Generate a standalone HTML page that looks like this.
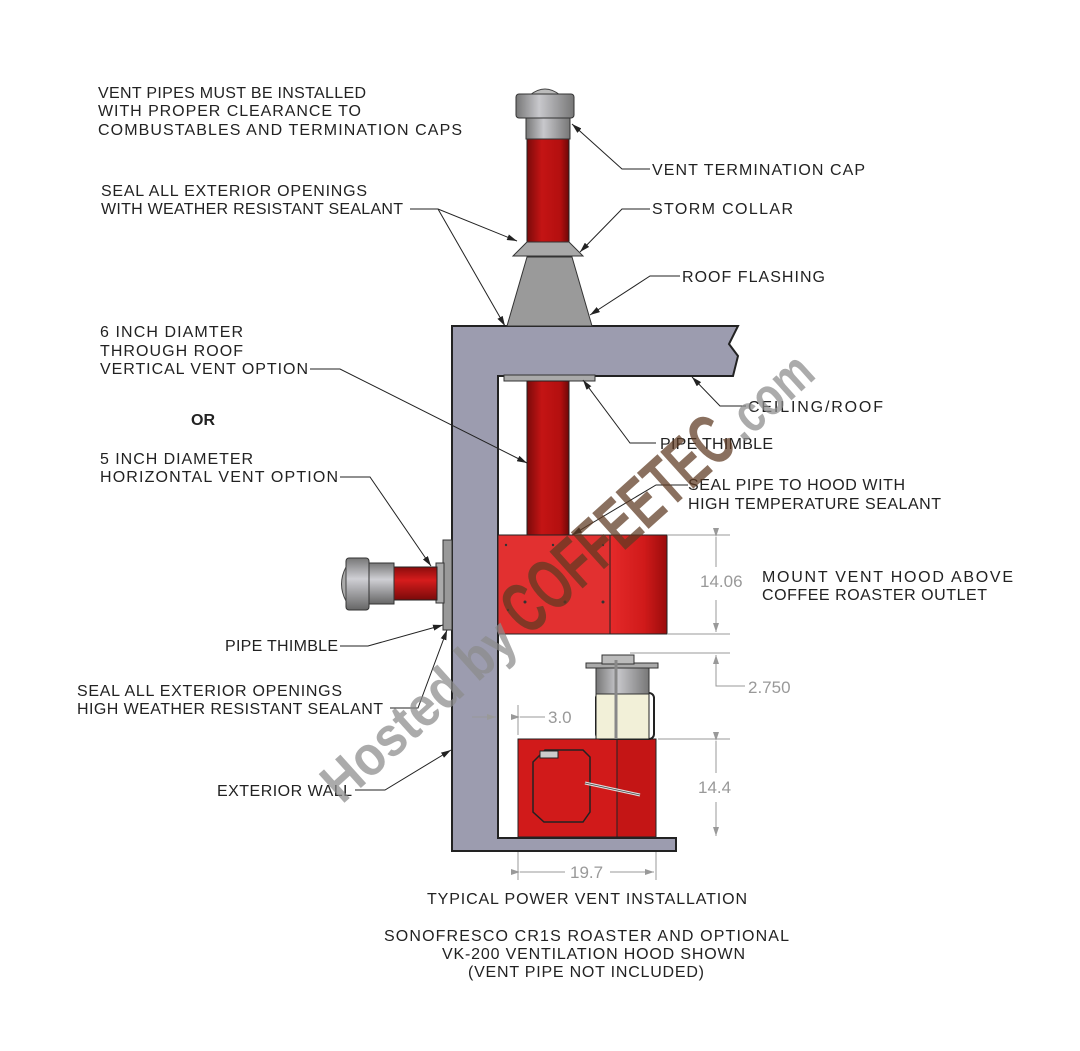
<!DOCTYPE html>
<html><head><meta charset="utf-8"><style>
html,body{margin:0;padding:0;background:#fff;}
svg{display:block;}
text{font-family:"Liberation Sans",sans-serif;font-size:16px;fill:#222;}
.d{fill:#999;font-size:17px;}
</style></head><body>
<svg width="1080" height="1051" viewBox="0 0 1080 1051" xmlns="http://www.w3.org/2000/svg">
<defs>
<linearGradient id="red" x1="0" x2="1"><stop offset="0" stop-color="#7a0a0a"/><stop offset="0.35" stop-color="#c41414"/><stop offset="0.8" stop-color="#b30f0f"/><stop offset="1" stop-color="#6e0808"/></linearGradient>
<linearGradient id="redh" x1="0" y1="0" x2="0" y2="1"><stop offset="0" stop-color="#8a0c0c"/><stop offset="0.4" stop-color="#d61c1c"/><stop offset="1" stop-color="#7a0a0a"/></linearGradient>
<linearGradient id="hood2" x1="0" x2="1"><stop offset="0" stop-color="#e52a2a"/><stop offset="0.6" stop-color="#d01a1a"/><stop offset="1" stop-color="#9a0c0c"/></linearGradient>
<linearGradient id="gray" x1="0" x2="1"><stop offset="0" stop-color="#777"/><stop offset="0.4" stop-color="#c8c8cc"/><stop offset="1" stop-color="#777"/></linearGradient>
<linearGradient id="grayv" x1="0" y1="0" x2="0" y2="1"><stop offset="0" stop-color="#777"/><stop offset="0.4" stop-color="#cfcfd4"/><stop offset="1" stop-color="#666"/></linearGradient>
<marker id="a" markerWidth="10" markerHeight="6" refX="10" refY="3" orient="auto" markerUnits="userSpaceOnUse"><path d="M0,0 L10,3 L0,6 z" fill="#222"/></marker>
<marker id="g" markerWidth="9" markerHeight="6" refX="9" refY="3" orient="auto" markerUnits="userSpaceOnUse"><path d="M0,0 L9,3 L0,6 z" fill="#999"/></marker>
</defs>

<path d="M452,326 L738,326 L729,344 L738,356 L733,376 L498,376 L498,838 L676,838 L676,851 L452,851 Z" fill="#9c9caf" stroke="#222" stroke-width="2"/>

<rect x="527" y="136" width="42" height="106" fill="url(#red)" stroke="#222"/>
<rect x="526" y="117" width="44" height="22" fill="url(#gray)" stroke="#333"/>
<path d="M530,95 Q545,83 560,95 Z" fill="#bbb" stroke="#444"/>
<rect x="516" y="94" width="58" height="24" rx="3" fill="url(#gray)" stroke="#333"/>
<path d="M527,242 L569,242 L583,256 L513,256 Z" fill="#a8a8a8" stroke="#333"/>
<path d="M527,257 L572,257 L592,326 L507,326 Z" fill="#9a9a9a" stroke="#333"/>
<rect x="504" y="375" width="91" height="6" fill="#aaa" stroke="#333"/>
<rect x="527" y="381" width="42" height="155" fill="url(#red)" stroke="#222"/>
<rect x="498" y="535" width="112" height="99" fill="#e23030" stroke="#222"/>
<rect x="610" y="535" width="57" height="99" fill="url(#hood2)" stroke="#222"/>
<g fill="#333"><circle cx="506" cy="545" r="1.2"/><circle cx="553" cy="545" r="1.2"/><circle cx="603" cy="545" r="1.2"/><circle cx="525" cy="602" r="1.5"/><circle cx="565" cy="602" r="1.5"/><circle cx="603" cy="602" r="1.5"/><circle cx="508" cy="610" r="1.2"/></g>

<rect x="443" y="540" width="9" height="90" fill="#999" stroke="#333"/>
<rect x="436" y="563" width="8" height="40" fill="#aaa" stroke="#333"/>
<rect x="393" y="567" width="44" height="33" fill="url(#redh)" stroke="#222"/>
<rect x="368" y="563" width="26" height="41" fill="url(#grayv)" stroke="#333"/>
<rect x="346" y="558" width="23" height="52" rx="3" fill="url(#grayv)" stroke="#333"/>
<path d="M346,567 Q337,584 346,601 Z" fill="#aaa" stroke="#444"/>

<rect x="518" y="739" width="138" height="98" fill="#d11a1a" stroke="#222"/>
<rect x="617" y="739" width="39" height="98" fill="#c41515" stroke="#222"/>
<path d="M533,762 L545,750 L583,750 L590,757 L590,812 L583,822 L544,822 L533,812 Z" fill="#d11a1a" stroke="#222" stroke-width="1.5"/>
<rect x="540" y="751" width="18" height="7" fill="#ccc" stroke="#222"/>
<line x1="585" y1="783" x2="640" y2="795" stroke="#ddd" stroke-width="3"/>
<line x1="585" y1="783" x2="640" y2="795" stroke="#444" stroke-width="0.7"/>
<rect x="596" y="693" width="58" height="46" rx="5" fill="none" stroke="#222" stroke-width="2"/>
<rect x="596" y="693" width="53" height="46" fill="#f2f0d8" stroke="#222"/>
<rect x="596" y="667" width="53" height="27" fill="url(#gray)" stroke="#333"/>
<rect x="586" y="663" width="72" height="5" fill="#aaa" stroke="#333"/>
<rect x="602" y="655" width="32" height="9" fill="#bbb" stroke="#333"/>
<line x1="616" y1="660" x2="616" y2="739" stroke="#888" stroke-width="3"/>

<g stroke="#999" stroke-width="1" fill="none">
<line x1="668" y1="535" x2="730" y2="535"/><line x1="668" y1="634" x2="730" y2="634"/>
<line x1="716" y1="537" x2="716" y2="567" marker-start="url(#g)"/><line x1="716" y1="600" x2="716" y2="632" marker-end="url(#g)"/>
<line x1="630" y1="653" x2="730" y2="653"/>
<path d="M716,665 L716,686 L745,686"/><line x1="716" y1="672" x2="716" y2="655" marker-end="url(#g)"/>
<line x1="658" y1="739" x2="730" y2="739"/>
<line x1="716" y1="741" x2="716" y2="773" marker-start="url(#g)"/><line x1="716" y1="802" x2="716" y2="836" marker-end="url(#g)"/>
<line x1="518" y1="705" x2="518" y2="735"/><line x1="520" y1="717" x2="545" y2="717" marker-start="url(#g)"/>
<line x1="472" y1="717" x2="496" y2="717" marker-end="url(#g)"/>
<line x1="518" y1="852" x2="518" y2="880"/><line x1="656" y1="852" x2="656" y2="880"/>
<line x1="520" y1="872" x2="565" y2="872" marker-start="url(#g)"/><line x1="610" y1="872" x2="654" y2="872" marker-end="url(#g)"/>
</g>
<text class="d" x="700" y="587">14.06</text>
<text class="d" x="748" y="693">2.750</text>
<text class="d" x="548" y="723">3.0</text>
<text class="d" x="698" y="793">14.4</text>
<text class="d" x="570" y="878">19.7</text>

<g stroke="#222" stroke-width="1" fill="none">
<path d="M650,169 L622,169 L572,124" marker-end="url(#a)"/>
<path d="M650,209 L622,209 L580,252" marker-end="url(#a)"/>
<path d="M680,276 L650,276 L590,315" marker-end="url(#a)"/>
<path d="M410,209 L438,209 L517,241" marker-end="url(#a)"/>
<path d="M438,209 L505,326" marker-end="url(#a)"/>
<path d="M310,369 L340,369 L527,463" marker-end="url(#a)"/>
<path d="M746,406 L720,406 L692,377" marker-end="url(#a)"/>
<path d="M656,443 L630,443 L583,380" marker-end="url(#a)"/>
<path d="M688,485 L656,485 L572,535" marker-end="url(#a)"/>
<path d="M340,477 L370,477 L431,566" marker-end="url(#a)"/>
<path d="M340,646 L368,646 L443,625" marker-end="url(#a)"/>
<path d="M390,708 L418,708 L447,630" marker-end="url(#a)"/>
<path d="M355,790 L385,790 L451,750" marker-end="url(#a)"/>
</g>

<text x="98" y="98" textLength="268">VENT PIPES MUST BE INSTALLED</text>
<text x="98" y="116" textLength="263">WITH PROPER CLEARANCE TO</text>
<text x="98" y="135" textLength="364">COMBUSTABLES AND TERMINATION CAPS</text>
<text x="101" y="196" textLength="266">SEAL ALL EXTERIOR OPENINGS</text>
<text x="101" y="214" textLength="302">WITH WEATHER RESISTANT SEALANT</text>
<text x="652" y="175" textLength="213">VENT TERMINATION CAP</text>
<text x="652" y="214" textLength="141">STORM COLLAR</text>
<text x="682" y="282" textLength="143">ROOF FLASHING</text>
<text x="100" y="337" textLength="143">6 INCH DIAMTER</text>
<text x="100" y="356" textLength="143">THROUGH ROOF</text>
<text x="100" y="374" textLength="208">VERTICAL VENT OPTION</text>
<text x="191" y="425" style="font-weight:bold" textLength="24">OR</text>
<text x="100" y="464" textLength="153">5 INCH DIAMETER</text>
<text x="100" y="482" textLength="238">HORIZONTAL VENT OPTION</text>
<text x="748" y="412" textLength="135">CEILING/ROOF</text>
<text x="660" y="449" textLength="113">PIPE THIMBLE</text>
<text x="688" y="490" textLength="217">SEAL PIPE TO HOOD WITH</text>
<text x="688" y="509" textLength="253">HIGH TEMPERATURE SEALANT</text>
<text x="762" y="582" textLength="251">MOUNT VENT HOOD ABOVE</text>
<text x="762" y="600" textLength="225">COFFEE ROASTER OUTLET</text>
<text x="225" y="651" textLength="113">PIPE THIMBLE</text>
<text x="77" y="696" textLength="265">SEAL ALL EXTERIOR OPENINGS</text>
<text x="77" y="714" textLength="306">HIGH WEATHER RESISTANT SEALANT</text>
<text x="217" y="796" textLength="135">EXTERIOR WALL</text>
<text x="427" y="904" textLength="320">TYPICAL POWER VENT INSTALLATION</text>
<text x="384" y="941" textLength="405">SONOFRESCO CR1S ROASTER AND OPTIONAL</text>
<text x="442" y="959" textLength="303">VK-200 VENTILATION HOOD SHOWN</text>
<text x="468" y="977" textLength="236">(VENT PIPE NOT INCLUDED)</text>

<g transform="translate(342,805) rotate(-42)" opacity="0.72">
<text x="0" y="0" style="font-size:56px;font-weight:bold;fill:#8c8c8c" textLength="240" lengthAdjust="spacingAndGlyphs">Hosted by</text>
<text x="250" y="0" style="font-size:72px;font-weight:bold;fill:#5e3a22" textLength="285" lengthAdjust="spacingAndGlyphs">COFFEETEC</text>
<text x="540" y="0" style="font-size:54px;font-weight:bold;fill:#8c8c8c" textLength="100" lengthAdjust="spacingAndGlyphs">.com</text>
</g>
</svg>
</body></html>
